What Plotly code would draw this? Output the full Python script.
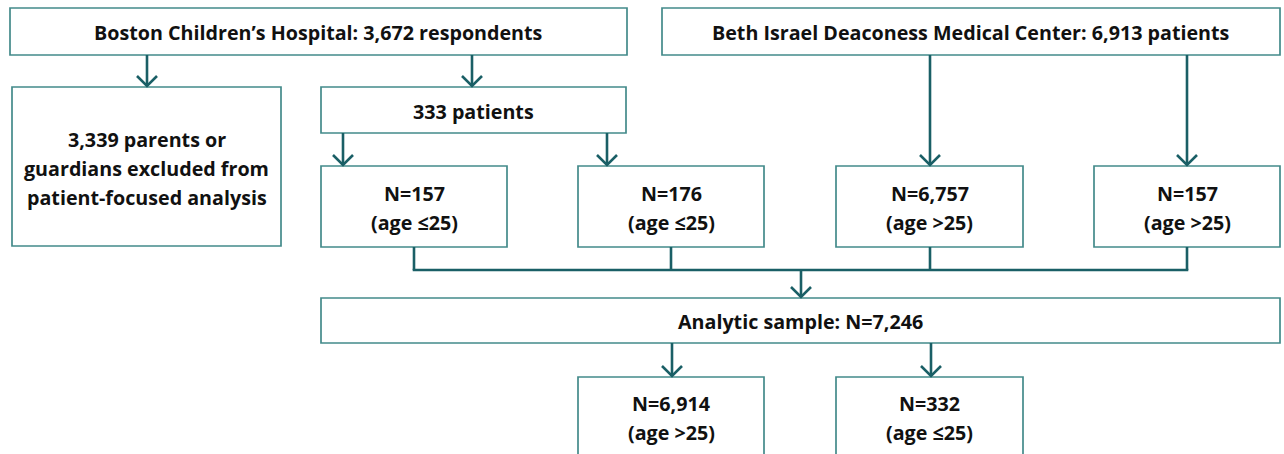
import plotly.graph_objects as go

# ---- data: boxes (labels) ----
box_labels = [
    ["Boston Children\u2019s Hospital: 3,672 respondents"],
    ["Beth Israel Deaconess Medical Center: 6,913 patients"],
    ["3,339 parents or", "guardians excluded from", "patient-focused analysis"],
    ["333 patients"],
    ["N=157", "(age \u226425)"],
    ["N=176", "(age \u226425)"],
    ["N=6,757", "(age >25)"],
    ["N=157", "(age >25)"],
    ["Analytic sample: N=7,246"],
    ["N=6,914", "(age >25)"],
    ["N=332", "(age \u226425)"],
]
# box geometry (pixels)
box_x0 = [10, 662, 12, 321, 321, 578, 836, 1094, 321, 578, 836]
box_x1 = [627, 1280, 281, 626, 507, 764, 1023, 1280, 1280, 764, 1023]
box_y0 = [8, 8, 87, 87, 166, 166, 166, 166, 298, 377, 377]
box_y1 = [55, 55, 246, 133, 247, 247, 247, 247, 343, 470, 470]
# first-line centre y and line spacing for each box
text_y0 = [32, 32, 139, 111, 193, 193, 193, 193, 321, 403, 403]
line_gap = 29.0

# arrows: (x, y_from, y_to)
arrow_x = [147, 472, 343, 607, 930, 1187, 801, 672, 931]
arrow_y0 = [55, 55, 133, 133, 55, 55, 270, 343, 343]
arrow_y1 = [87, 87, 166, 166, 166, 166, 298, 377, 377]

# connector stubs from the four middle boxes down to the join line
stub_x = [414, 671, 930, 1187]
join_y = 270

BORDER = "#438a8a"
ARROW = "#1a5f66"

fig = go.Figure()
shapes = []
annotations = []

for i, lines in enumerate(box_labels):
    shapes.append(dict(type="rect", xref="x", yref="y",
                       x0=box_x0[i], x1=box_x1[i], y0=box_y0[i], y1=box_y1[i],
                       line=dict(color=BORDER, width=1.7), fillcolor="white", layer="below"))
    cx = (box_x0[i] + box_x1[i]) / 2
    for j, t in enumerate(lines):
        annotations.append(dict(x=cx, y=text_y0[i] + j * line_gap, xref="x", yref="y",
                                text="<b>" + t + "</b>", showarrow=False,
                                xanchor="center", yanchor="middle",
                                font=dict(family="Open Sans", size=19.7, color="#111111")))

for x, y0, y1 in zip(arrow_x, arrow_y0, arrow_y1):
    shapes.append(dict(type="line", xref="x", yref="y", x0=x, x1=x, y0=y0, y1=y1 - 1,
                       line=dict(color=ARROW, width=2.6)))
    shapes.append(dict(type="path", xref="x", yref="y",
                       path=f"M {x-10} {y1-11} L {x} {y1-1} L {x+10} {y1-11}",
                       line=dict(color=ARROW, width=2.6)))

for x in stub_x:
    shapes.append(dict(type="line", xref="x", yref="y", x0=x, x1=x, y0=247, y1=join_y,
                       line=dict(color=ARROW, width=2.6)))
shapes.append(dict(type="line", xref="x", yref="y", x0=stub_x[0] - 1.3, x1=stub_x[-1] + 1.3,
                   y0=join_y, y1=join_y, line=dict(color=ARROW, width=2.6)))

fig.update_layout(
    width=1284, height=454,
    margin=dict(l=0, r=0, t=0, b=0),
    paper_bgcolor="white", plot_bgcolor="white",
    xaxis=dict(range=[0, 1284], visible=False, fixedrange=True),
    yaxis=dict(range=[454, 0], visible=False, fixedrange=True),
    shapes=shapes, annotations=annotations, showlegend=False,
)
fig.write_html(
    "out.html",
    config={"displayModeBar": False, "staticPlot": True},
    post_script="document.body.style.margin='0';document.body.style.overflow='hidden';",
)
